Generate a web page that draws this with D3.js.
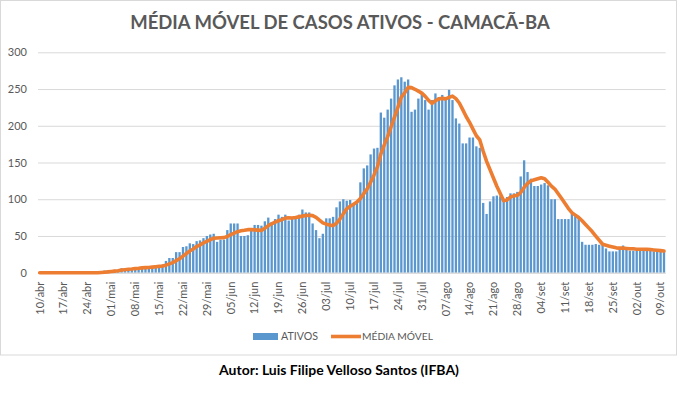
<!DOCTYPE html>
<html>
<head>
<meta charset="utf-8">
<script src="https://cdn.jsdelivr.net/npm/d3@7"></script>
<style>
  html, body { margin: 0; padding: 0; background: #fff; }
  svg { display: block; }
  text { font-family: Lato, "Liberation Sans", sans-serif; }
</style>
</head>
<body>
<svg id="chart" width="681" height="396"></svg>
<script>
// ---------- DATA ----------
const startDate = "2020-04-10";
const monthNames = ["jan","fev","mar","abr","mai","jun","jul","ago","set","out","nov","dez"];

const ativos = [
  0,0,0,0,0,0,0,0,0,0, 0,0,0,0,0,0,0,0,2,3,
  3,3,4,4,6,6,6,6,7,7, 8,8,8,9,10,10,11,16,20,20,
  28,28,35,36,40,39,43,44,47,50, 52,53,42,45,45,58,67,67,67,50,
  50,51,58,65,65,64,70,75,69,73, 79,76,79,71,74,74,79,86,82,82,
  67,58,47,53,74,74,76,89,97,100, 98,99,94,97,123,142,146,161,169,170,
  218,211,222,237,255,263,266,260,263,219, 222,237,244,235,222,235,244,239,242,239,
  249,235,210,203,176,176,184,184,172,170, 95,80,97,104,105,104,100,103,108,108,
  110,131,153,137,128,118,118,120,122,119, 100,100,73,73,73,73,80,77,77,42,
  38,38,38,39,38,38,33,29,29,29, 32,37,32,30,30,30,31,30,30,30,
  29,30,29,29
];

const mediaMovel = [
  0,0,0,0,0,0,0,0,0,0, 0,0,0,0,0,0,0,0,0.3,0.7,
  1.1,1.6,2.1,2.7,3.6,4.1,4.6,5.0,5.6,6.0, 6.6,6.9,7.1,7.6,8.1,8.6,9.1,10.3,12.0,13.7,
  16.4,19.0,22.6,26.1,29.6,32.3,35.6,37.9,40.6,42.7, 45.0,46.9,47.3,47.6,47.7,49.3,51.7,53.9,55.9,57.0,
  57.7,58.6,58.6,58.3,58.0,57.6,60.4,64.0,66.6,68.7, 70.7,72.3,74.4,74.6,74.4,75.1,76.0,77.0,77.9,78.3,
  77.7,75.4,71.6,67.9,66.1,65.0,64.1,67.3,72.9,80.4, 86.9,90.4,93.3,96.3,101.1,107.6,114.1,123.1,133.1,144.0,
  161.3,173.9,185.3,198.3,211.7,225.1,238.9,244.9,252.3,251.9, 249.7,247.1,244.4,240.0,234.6,230.6,234.1,236.6,237.3,236.6,
  238.6,240.4,236.9,231.0,222.0,212.6,204.7,195.4,186.4,180.7, 165.3,151.6,140.3,128.9,117.6,107.9,97.9,99.0,103.0,104.6,
  105.4,109.1,116.1,121.4,125.0,126.4,127.9,129.3,128.0,123.1, 117.9,113.9,107.4,101.0,94.3,87.3,81.7,78.4,75.1,70.7,
  65.7,60.7,55.7,49.9,44.3,38.7,37.4,36.1,34.9,33.8, 33.5,33.5,33.0,32.5,32.5,32.0,32.0,32.0,31.8,31.5,
  31.0,30.5,30.0,29.5
];

const tickLabels = ["10/abr","17/abr","24/abr","01/mai","08/mai","15/mai","22/mai","29/mai",
  "05/jun","12/jun","19/jun","26/jun","03/jul","10/jul","17/jul","24/jul","31/jul",
  "07/ago","14/ago","21/ago","28/ago","04/set","11/set","18/set","25/set","02/out","09/out"];
const yTicks = [0,50,100,150,200,250,300];

const titleText = "MÉDIA MÓVEL DE CASOS ATIVOS - CAMACÃ-BA";
const footerText = "Autor: Luis Filipe Velloso Santos (IFBA)";
const seriesNames = ["ATIVOS", "MÉDIA MÓVEL"];

// categories: one label per day
const parse = d3.timeParse("%Y-%m-%d");
const d0 = parse(startDate);
const categories = ativos.map((_, i) => {
  const d = d3.timeDay.offset(d0, i);
  return d3.timeFormat("%d")(d) + "/" + monthNames[d.getMonth()];
});

// ---------- LAYOUT ----------
const svg = d3.select("#chart");
const W = 681, H = 396;
const plot = { left: 38, right: 665.7, top: 52.3, bottom: 272.7 };

const BLUE = "#5B97CF", ORANGE = "#ED7D31", GRID = "#D9D9D9", TXT = "#595959";

// outer chart border
svg.append("rect").attr("x", 0.5).attr("y", 0.5).attr("width", 676).attr("height", 354.5)
  .attr("fill", "#fff").attr("stroke", GRID).attr("stroke-width", 1);

const x = d3.scaleBand().domain(categories).range([plot.left, plot.right]).paddingInner(0.32).paddingOuter(0.16);
const y = d3.scaleLinear().domain([0, 300]).range([plot.bottom, plot.top]);

// gridlines
const yAxis = d3.axisLeft(y).tickValues(yTicks).tickSize(-(plot.right - plot.left)).tickPadding(11);
const gy = svg.append("g").attr("transform", `translate(${plot.left},0)`).call(yAxis);
gy.select(".domain").remove();
gy.selectAll(".tick line").attr("stroke", GRID).attr("stroke-width", 1);
gy.selectAll(".tick text").attr("fill", TXT).style("font-size", "11px")
  .style("font-family", "Lato, 'Liberation Sans', sans-serif");

// bars
svg.append("g").selectAll("rect").data(ativos).join("rect")
  .attr("x", (d, i) => x(categories[i]))
  .attr("width", x.bandwidth())
  .attr("y", d => y(d))
  .attr("height", d => y(0) - y(d))
  .attr("fill", BLUE);

// x axis
const tickCats = tickLabels.filter(t => categories.includes(t));
const xAxis = d3.axisBottom(x).tickValues(tickCats).tickSize(0).tickPadding(0);
const gx = svg.append("g").attr("transform", `translate(0,${plot.bottom})`).call(xAxis);
gx.select(".domain").attr("stroke", GRID).attr("d", `M${plot.left},0.5H${plot.right}`);
gx.selectAll(".tick text")
  .attr("fill", TXT).style("font-size", "11px")
  .style("font-family", "Lato, 'Liberation Sans', sans-serif")
  .attr("text-anchor", "end")
  .attr("transform", "rotate(-90)")
  .attr("x", -9).attr("y", 0).attr("dy", "0.35em");

// line
const line = d3.line()
  .x((d, i) => x(categories[i]) + x.bandwidth() / 2)
  .y(d => y(d));
svg.append("path").datum(mediaMovel)
  .attr("d", line).attr("fill", "none").attr("stroke", ORANGE)
  .attr("stroke-width", 3.6).attr("stroke-linejoin", "round").attr("stroke-linecap", "round");

// title
function fit(sel, target) {
  let fs = parseFloat(sel.style("font-size"));
  for (let k = 0; k < 4; k++) {
    const w = sel.node().getComputedTextLength();
    if (!w) break;
    fs = fs * target / w;
    sel.style("font-size", fs + "px");
  }
}
const title = svg.append("text").attr("x", 340).attr("y", 29).attr("text-anchor", "middle")
  .attr("fill", TXT).style("font-weight", "bold").style("font-size", "19px").text(titleText);
fit(title, 419);

// legend
const ly = 336.5;
svg.append("rect").attr("x", 253).attr("y", ly - 3.5).attr("width", 25).attr("height", 7).attr("fill", BLUE);
const l1 = svg.append("text").attr("x", 281).attr("y", ly).attr("dy", "0.35em").attr("fill", TXT)
  .style("font-size", "11px").text(seriesNames[0]);
fit(l1, 37);
svg.append("line").attr("x1", 331).attr("x2", 361).attr("y1", ly).attr("y2", ly)
  .attr("stroke", ORANGE).attr("stroke-width", 3.6);
const l2 = svg.append("text").attr("x", 362).attr("y", ly).attr("dy", "0.35em").attr("fill", TXT)
  .style("font-size", "11px").text(seriesNames[1]);
fit(l2, 71);

// footer
const foot = svg.append("text").attr("x", 339).attr("y", 375).attr("text-anchor", "middle")
  .attr("fill", "#000").style("font-weight", "bold").style("font-size", "12px").text(footerText);
fit(foot, 240);
</script>
</body>
</html>
